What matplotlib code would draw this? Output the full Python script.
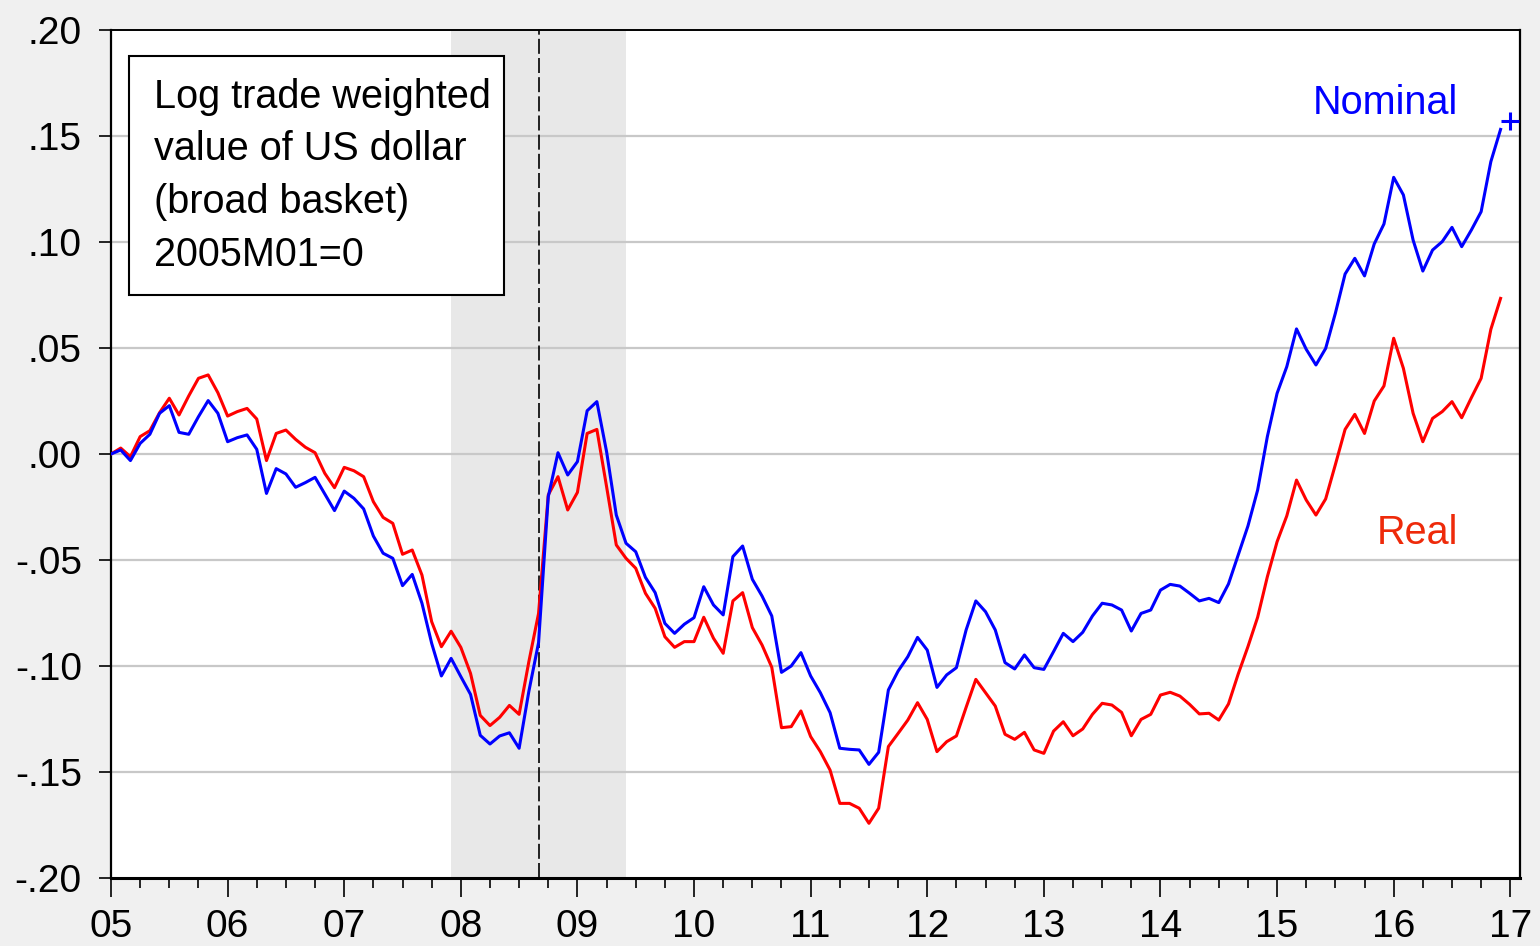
import matplotlib
matplotlib.use("Agg")
import matplotlib.pyplot as plt
import matplotlib.patches as mpatches
from matplotlib.ticker import FixedLocator, FuncFormatter
import numpy as np

# Monthly log trade weighted value of US dollar, 2005M01 .. 2016M12 (2005M01 = 0)
nominal = [
    0.0000, 0.0019, -0.0031, 0.0050, 0.0093, 0.0192, 0.0228, 0.0102, 0.0093, 0.0176, 0.0252, 0.0192,
    0.0058, 0.0077, 0.0090, 0.0022, -0.0186, -0.0069, -0.0094, -0.0157, -0.0135, -0.0110, -0.0189, -0.0267,
    -0.0175, -0.0209, -0.0259, -0.0387, -0.0468, -0.0492, -0.0621, -0.0568, -0.0704, -0.0893, -0.1047, -0.0964,
    -0.1050, -0.1134, -0.1327, -0.1368, -0.1330, -0.1315, -0.1388, -0.1120, -0.0890, -0.0201, 0.0006, -0.0099,
    -0.0036, 0.0204, 0.0247, 0.0011, -0.0288, -0.0421, -0.0461, -0.0582, -0.0654, -0.0799, -0.0846, -0.0803,
    -0.0772, -0.0626, -0.0712, -0.0759, -0.0484, -0.0434, -0.0591, -0.0670, -0.0764, -0.1030, -0.1000, -0.0937,
    -0.1047, -0.1126, -0.1220, -0.1388, -0.1393, -0.1396, -0.1464, -0.1407, -0.1113, -0.1024, -0.0956, -0.0865,
    -0.0925, -0.1101, -0.1042, -0.1008, -0.0830, -0.0693, -0.0744, -0.0830, -0.0984, -0.1014, -0.0948, -0.1008,
    -0.1016, -0.0932, -0.0846, -0.0885, -0.0841, -0.0764, -0.0704, -0.0712, -0.0736, -0.0835, -0.0752, -0.0736,
    -0.0642, -0.0615, -0.0623, -0.0657, -0.0693, -0.0681, -0.0701, -0.0613, -0.0476, -0.0340, -0.0170, 0.0082,
    0.0286, 0.0412, 0.0590, 0.0494, 0.0420, 0.0498, 0.0664, 0.0849, 0.0923, 0.0840, 0.0991, 0.1085,
    0.1305, 0.1222, 0.1009, 0.0863, 0.0962, 0.1002, 0.1069, 0.0978, 0.1057, 0.1143, 0.1379, 0.1531,
]
real = [
    0.0000, 0.0028, -0.0013, 0.0082, 0.0110, 0.0195, 0.0263, 0.0184, 0.0274, 0.0357, 0.0373, 0.0289,
    0.0179, 0.0200, 0.0215, 0.0165, -0.0031, 0.0097, 0.0113, 0.0069, 0.0032, 0.0006, -0.0091, -0.0159,
    -0.0063, -0.0079, -0.0107, -0.0225, -0.0299, -0.0327, -0.0473, -0.0453, -0.0571, -0.0791, -0.0909, -0.0836,
    -0.0912, -0.1035, -0.1233, -0.1281, -0.1242, -0.1186, -0.1228, -0.0980, -0.0752, -0.0193, -0.0107, -0.0264,
    -0.0181, 0.0097, 0.0116, -0.0154, -0.0429, -0.0492, -0.0539, -0.0657, -0.0728, -0.0862, -0.0912, -0.0885,
    -0.0885, -0.0770, -0.0869, -0.0940, -0.0693, -0.0654, -0.0819, -0.0901, -0.1006, -0.1291, -0.1286, -0.1212,
    -0.1333, -0.1404, -0.1491, -0.1648, -0.1648, -0.1671, -0.1742, -0.1671, -0.1380, -0.1318, -0.1255, -0.1173,
    -0.1252, -0.1404, -0.1357, -0.1330, -0.1195, -0.1063, -0.1126, -0.1189, -0.1322, -0.1346, -0.1313, -0.1396,
    -0.1412, -0.1307, -0.1263, -0.1329, -0.1297, -0.1228, -0.1176, -0.1184, -0.1219, -0.1329, -0.1252, -0.1228,
    -0.1137, -0.1124, -0.1142, -0.1181, -0.1226, -0.1223, -0.1255, -0.1179, -0.1038, -0.0909, -0.0770, -0.0579,
    -0.0414, -0.0292, -0.0123, -0.0217, -0.0288, -0.0212, -0.0050, 0.0116, 0.0187, 0.0097, 0.0250, 0.0321,
    0.0546, 0.0404, 0.0192, 0.0058, 0.0168, 0.0200, 0.0247, 0.0171, 0.0266, 0.0357, 0.0588, 0.0734,
]
# 2017M01 nominal point shown as "+"
nominal_latest = 0.157

year_labels = ["05", "06", "07", "08", "09", "10", "11", "12", "13", "14", "15", "16", "17"]
y_ticks = [-0.20, -0.15, -0.10, -0.05, 0.00, 0.05, 0.10, 0.15, 0.20]
box_lines = ["Log trade weighted", "value of US dollar", "(broad basket)", "2005M01=0"]

recession = (35, 53)   # 2007M12 .. 2009M06
lehman = 44            # 2008M09

W, H = 1540, 946
plt.rcParams["font.family"] = ["Liberation Sans", "DejaVu Sans"]

fig = plt.figure(figsize=(W / 100, H / 100), dpi=100, facecolor="#f0f0f0")
ax = fig.add_axes([111 / W, 1 - 878 / H, (1520 - 111) / W, (878 - 30) / H])
ax.set_facecolor("white")

months = np.arange(len(nominal))

ax.axvspan(recession[0], recession[1], color="#e8e8e8", lw=0, zorder=0.5)
for yv in y_ticks[1:-1]:
    ax.axhline(yv, color="#c8c8c8", lw=1.6, zorder=1)
ax.axvline(lehman, color="black", lw=1.2, ls=(0, (9, 2.5)), zorder=1.5)

ax.plot(months, real, color="#ff0000", lw=2.2, zorder=3)
ax.plot(months, nominal, color="#0000ff", lw=2.2, zorder=4)
ax.plot([144], [nominal_latest], marker="+", color="#0000ff", ms=13, mew=2.2,
        ls="none", clip_on=False, zorder=5)

ax.set_xlim(0, 145)
ax.set_ylim(-0.20, 0.20)

ax.xaxis.set_major_locator(FixedLocator(np.arange(0, 145, 12)))
ax.xaxis.set_minor_locator(FixedLocator(np.arange(0, 145, 3)))
ax.set_xticklabels(year_labels)
ax.set_yticks(y_ticks)


def fmt_y(v, pos):
    s = f"{v:.2f}"
    return s.replace("0.", ".", 1)


ax.yaxis.set_major_formatter(FuncFormatter(fmt_y))
ax.tick_params(axis="x", which="major", direction="out", length=14, width=1.2,
               labelsize=28, pad=8, colors="black")
ax.tick_params(axis="x", which="minor", direction="out", length=7, width=1.2)
ax.tick_params(axis="y", which="major", direction="out", length=9, width=1.2,
               labelsize=28, pad=12)

for side, lw in [("left", 1.6), ("top", 1.4), ("right", 1.6), ("bottom", 2.2)]:
    ax.spines[side].set_linewidth(lw)
    ax.spines[side].set_color("black")


def fx(px):
    return px / W


def fy(py):
    return 1 - py / H


box = mpatches.Rectangle((fx(129), fy(295)), fx(504) - fx(129), fy(56) - fy(295),
                         transform=fig.transFigure, facecolor="white",
                         edgecolor="black", lw=1.5, zorder=6)
fig.patches.append(box)
for i, line in enumerate(box_lines):
    fig.text(fx(154), fy(108 + 52.5 * i), line, fontsize=28.5, va="baseline",
             ha="left", color="black", zorder=7)

fig.text(fx(1313), fy(114), "Nominal", fontsize=28.5, color="#0000ff", va="baseline", ha="left")
fig.text(fx(1377), fy(544), "Real", fontsize=28.5, color="#ee2a0a", va="baseline", ha="left")

fig.savefig("out.png", dpi=100, facecolor=fig.get_facecolor())
